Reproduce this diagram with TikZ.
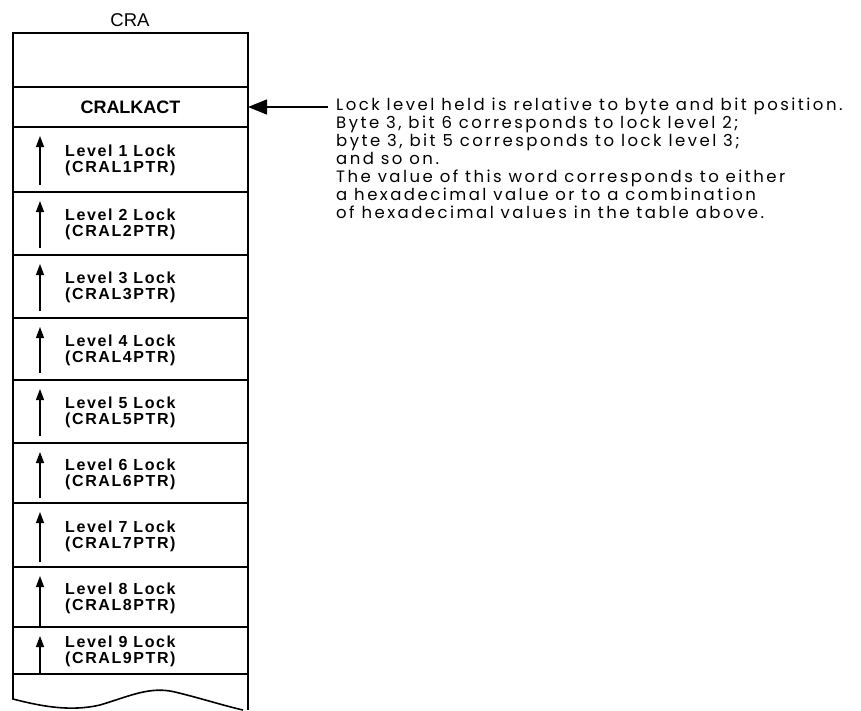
\documentclass[tikz,border=0pt]{standalone}
\usepackage{fontspec}
\setmainfont{Liberation Sans}
\newfontfamily\descfont[LetterSpace=15]{Poppins}
\newfontfamily\lvlfont[LetterSpace=10]{Liberation Sans}
\usetikzlibrary{arrows.meta}
\begin{document}
\begin{tikzpicture}[x=1pt,y=-1pt,
  rowbox/.style={draw, line width=1.6pt, minimum width=235pt, inner sep=0pt, outer sep=0pt, anchor=north west},
  lvltext/.style={anchor=west, align=left, inner sep=0pt, font=\lvlfont\fontsize{16}{16}\selectfont\bfseries},
  uparrow/.style={-{Triangle[width=8pt,length=11pt]}, line width=1.2pt},
  bigarrow/.style={-{Triangle[width=15pt,length=19pt]}, line width=1.3pt},
  desc/.style={anchor=north west, align=left, inner sep=0pt, font=\descfont\fontsize{16.5}{18}\selectfont}
]
\useasboundingbox (0,0) rectangle (861,710);
\node[font=\fontsize{18.5}{20}\selectfont, inner sep=0pt] (cra) at (130,20) {CRA};
\node[rowbox, minimum height=54pt] (r0) at (13,33) {};
\node[rowbox, minimum height=40pt] (kact) at (13,87) {};
\node[font=\fontsize{18}{20}\selectfont\bfseries, inner sep=0pt] (kacttext) at (kact.center) {CRALKACT};
\foreach \i/\t/\b/\e in {1/127/192/7, 2/192/255/7, 3/255/318/7, 4/318/380/7, 5/380/443/7, 6/443/503/5, 7/503/567/5, 8/567/627/0, 9/627/674/0} {
  \node[rowbox, minimum height={\b-\t}] (L\i) at (13,\t) {};
  \node[lvltext] (T\i) at (65,{(\t+\b)/2+1}) {Level \i{} Lock\\(CRAL\i PTR)};
  \draw[uparrow] (40,{\b-\e}) -- (40,{\t+9});
}
\draw[line width=1.6pt] (L9.south west) -- (13,699)
  .. controls (40,706) and (70,712) .. (100,705)
  .. controls (130,696) and (150,686) .. (175,692)
  .. controls (200,698) and (225,706) .. (243,710);
\draw[line width=1.6pt] (L9.south east) -- (248,710);
\node[desc] (note) at (336,98) {Lock level held is relative to byte and bit position.\\
Byte 3, bit 6 corresponds to lock level 2;\\
byte 3, bit 5 corresponds to lock level 3;\\
and so on.\\
The value of this word corresponds to either\\
a hexadecimal value or to a combination\\
of hexadecimal values in the table above.};
\coordinate (atail) at (328,107);
\draw[bigarrow] (atail) -- (kact.east);
\end{tikzpicture}
\end{document}
